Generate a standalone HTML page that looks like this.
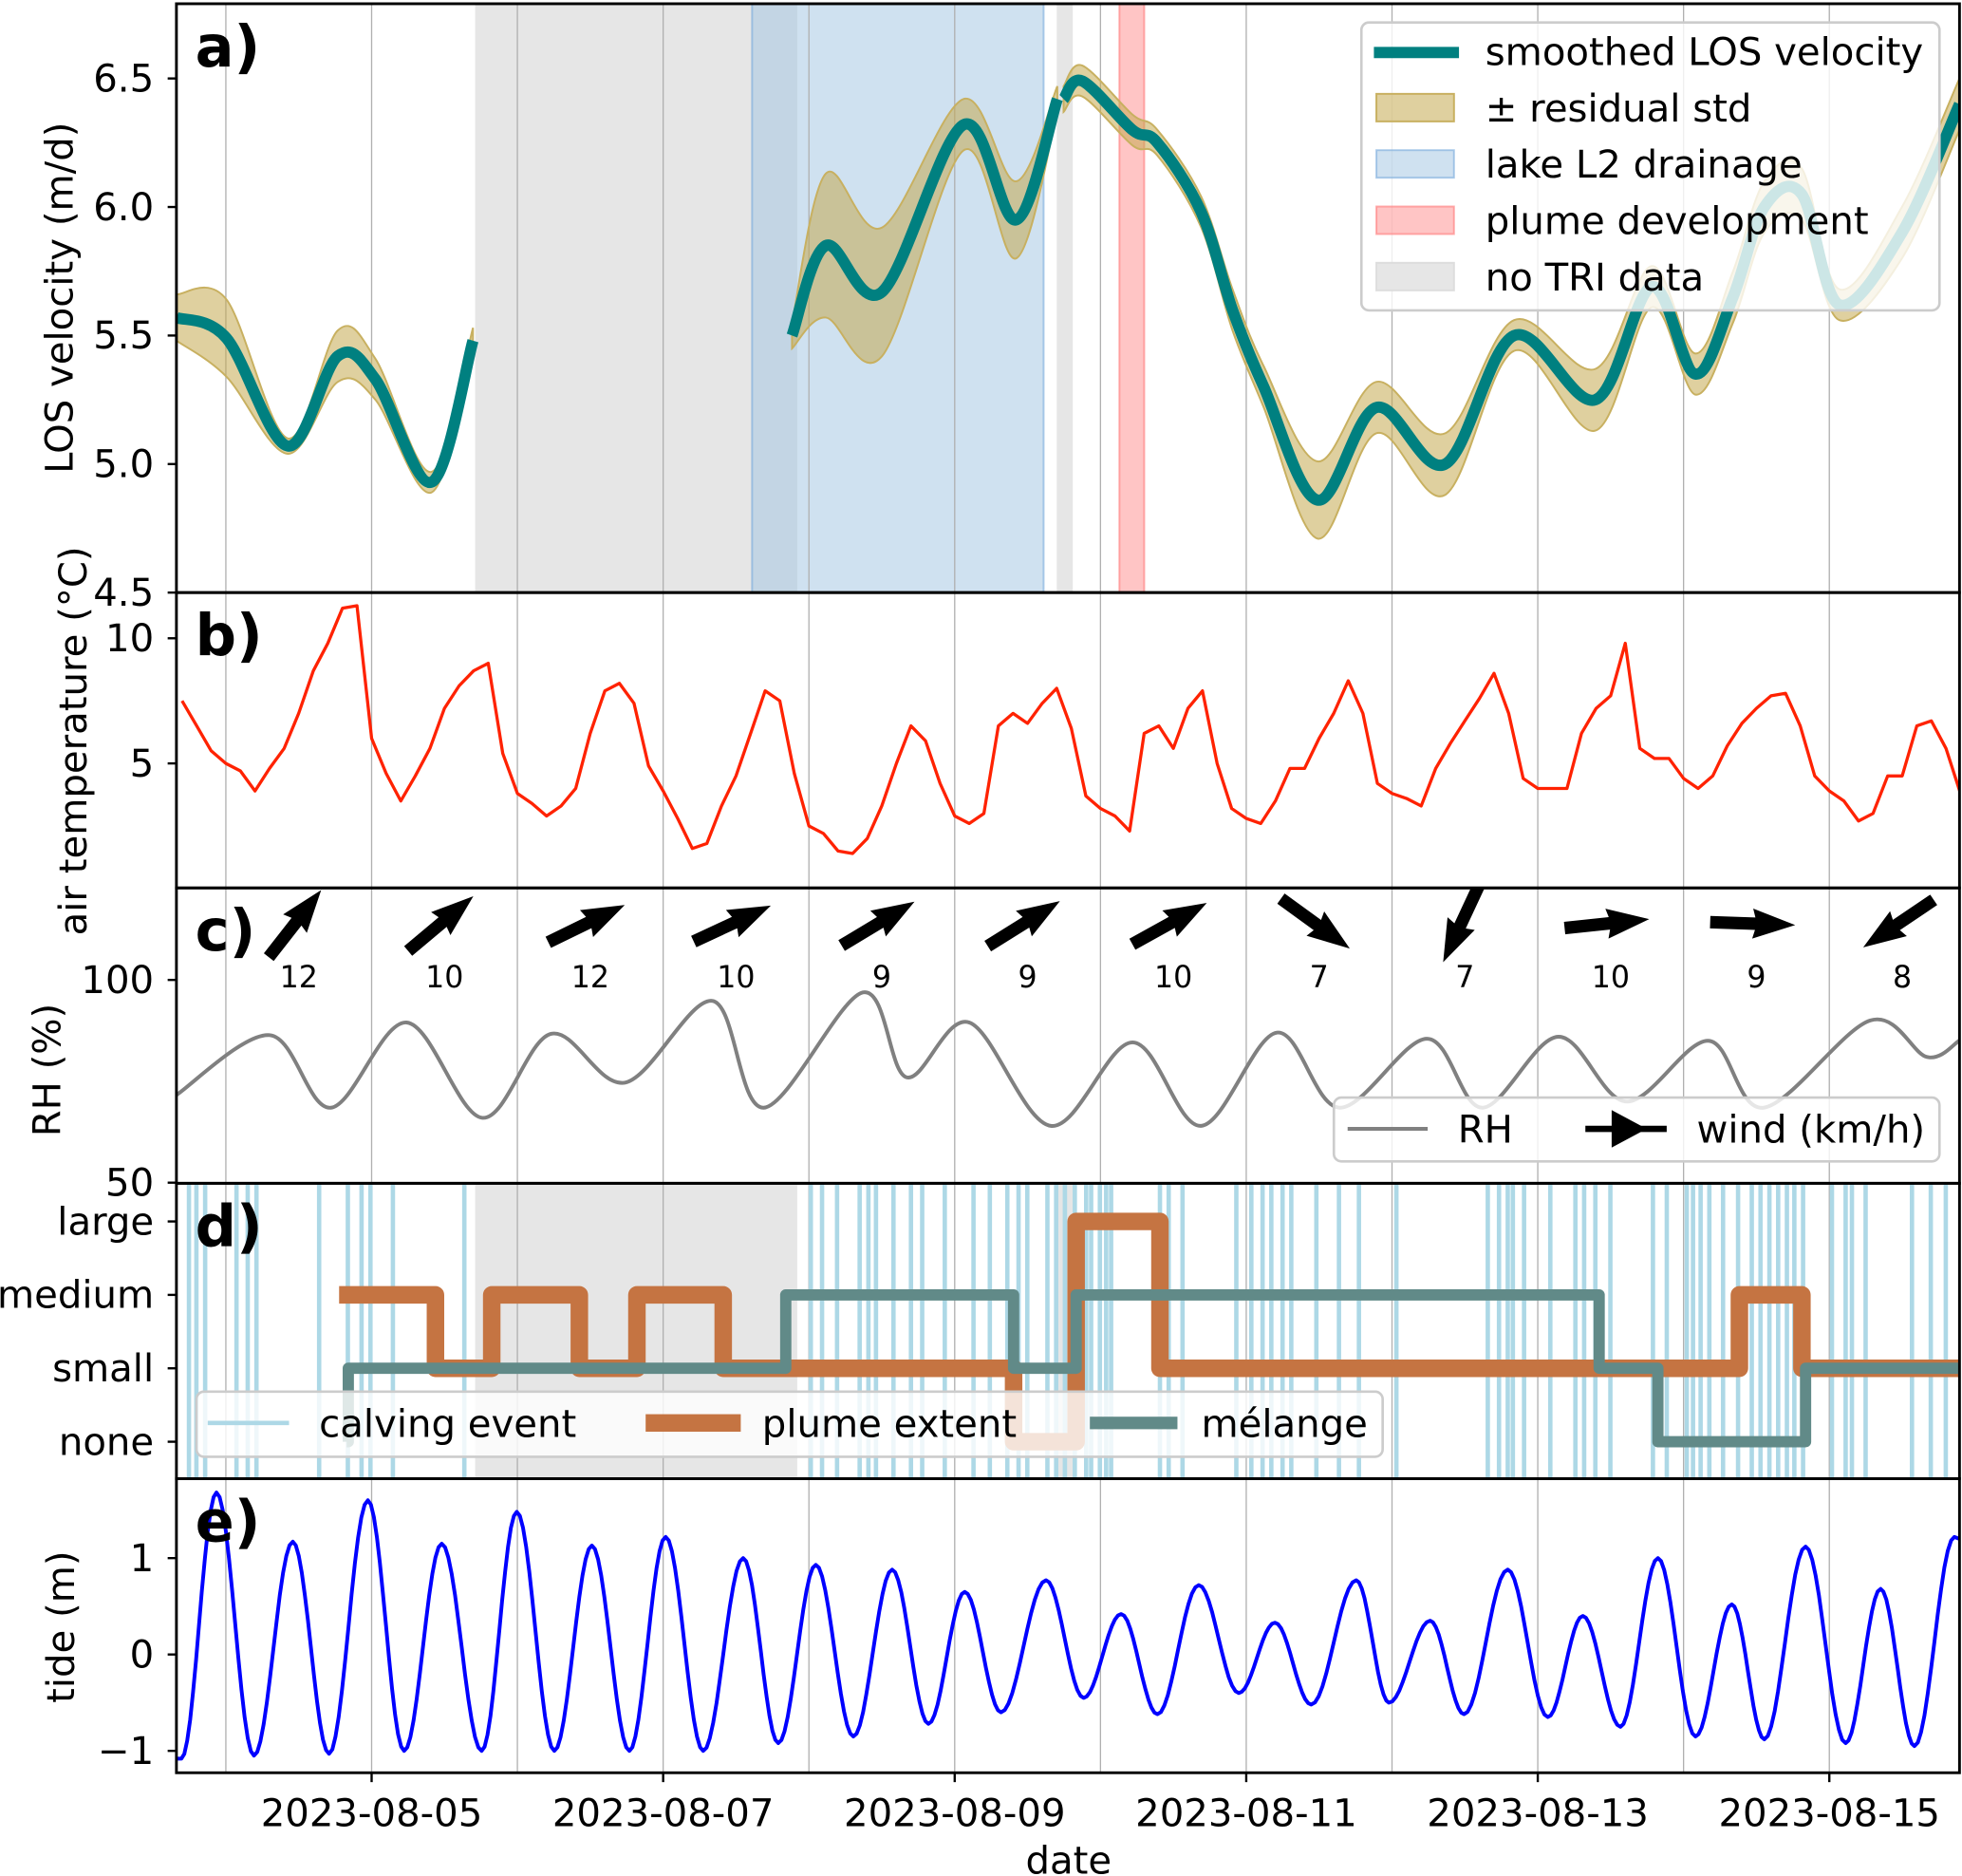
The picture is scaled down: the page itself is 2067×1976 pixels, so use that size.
<!DOCTYPE html>
<html><head><meta charset="utf-8">
<style>
html,body{margin:0;padding:0;background:#fff;}
svg{display:block;font-family:"DejaVu Sans","Liberation Sans",sans-serif;}
</style></head>
<body>
<svg id="fig" width="2067" height="1976" viewBox="0 0 1568 1499" preserveAspectRatio="none" xmlns="http://www.w3.org/2000/svg">
<defs>
<clipPath id="cpA"><rect x="141" y="3" width="1425" height="470.5"/></clipPath>
<clipPath id="cpB"><rect x="141" y="473.5" width="1425" height="236"/></clipPath>
<clipPath id="cpC"><rect x="141" y="709.5" width="1425" height="236"/></clipPath>
<clipPath id="cpD"><rect x="141" y="945.5" width="1425" height="236"/></clipPath>
<clipPath id="cpE"><rect x="141" y="1181.5" width="1425" height="235"/></clipPath>
</defs>
</svg>
<script>
// ---------- DATA ----------
const dateTicks = [5, 7, 9, 11, 13, 15];
const dateTickLabels = ["2023-08-05","2023-08-07","2023-08-09","2023-08-11","2023-08-13","2023-08-15"];
const gridDays = [4,5,6,7,8,9,10,11,12,13,14,15];

// panel a: smoothed LOS velocity (3 segments)
const velT1 = [3.661, 4.004, 4.425, 4.768, 5.026, 5.412, 5.695];
const velV1 = [5.57, 5.49, 5.07, 5.42, 5.33, 4.93, 5.48];
const velS1 = [0.09, 0.15, 0.03, 0.1, 0.08, 0.04, 0.05];
const velT2 = [7.884, 8.116, 8.502, 9.060, 9.421, 9.704];
const velV2 = [5.5, 5.85, 5.67, 6.32, 5.95, 6.42];
const velS2 = [0.05, 0.28, 0.25, 0.1, 0.15, 0.05];
const velT3 = [9.747, 9.876, 10.219, 10.391, 10.691, 10.906, 11.120, 11.49, 11.893, 12.365, 12.837, 13.395, 13.781, 14.082, 14.339, 14.554, 14.811, 15.069, 15.498, 15.893];
const velV3 = [6.42, 6.49, 6.3, 6.25, 5.98, 5.6, 5.3, 4.86, 5.22, 5.0, 5.5, 5.25, 5.69, 5.35, 5.65, 6.0, 6.05, 5.62, 5.9, 6.4];
const velS3 = [0.05, 0.06, 0.06, 0.05, 0.06, 0.08, 0.08, 0.15, 0.1, 0.12, 0.06, 0.12, 0.08, 0.08, 0.1, 0.1, 0.1, 0.06, 0.1, 0.1];
const noDataStart = [5.71, 9.70];
const noDataEnd = [7.92, 9.81];
const lakeStart = [7.61], lakeEnd = [9.61];
const plumeDevStart = [10.13], plumeDevEnd = [10.30];
const velTicks = [4.5, 5.0, 5.5, 6.0, 6.5];

// panel b: air temperature, every 0.1 day from 3.7
const tempT0 = 3.7, tempStep = 0.1;
const tempV = [7.5,6.5,5.5,5.0,4.7,3.9,4.8,5.6,7.0,8.7,9.8,11.2,11.3,6.0,4.6,3.5,4.5,5.6,7.2,8.1,8.7,9.0,5.4,3.8,3.4,2.9,3.3,4.0,6.2,7.9,8.2,7.4,4.9,3.9,2.8,1.6,1.8,3.3,4.5,6.2,7.9,7.5,4.6,2.5,2.2,1.5,1.4,2.0,3.3,5.0,6.5,5.9,4.2,2.9,2.6,3.0,6.5,7.0,6.6,7.4,8.0,6.4,3.7,3.2,2.9,2.3,6.2,6.5,5.6,7.2,7.9,5.0,3.2,2.8,2.6,3.5,4.8,4.8,6.0,7.0,8.3,7.0,4.2,3.8,3.6,3.3,4.8,5.8,6.7,7.6,8.6,7.0,4.4,4.0,4.0,4.0,6.2,7.2,7.7,9.8,5.6,5.2,5.2,4.4,4.0,4.5,5.7,6.6,7.2,7.7,7.8,6.5,4.5,3.9,3.5,2.7,3.0,4.5,4.5,6.5,6.7,5.6,3.8];
const tempTicks = [5, 10];

// panel c: RH and wind
const rhT = [3.66,4.30,4.72,5.24,5.76,6.23,6.74,7.34,7.69,8.37,8.67,9.10,9.66,10.22,10.69,11.21,11.64,12.24,12.62,13.14,13.61,14.17,14.55,15.28,15.67,15.89];
const rhV = [71.6,86.4,68.5,89.5,66,86.7,74.7,94.8,68.5,96.9,76,89.5,64,84.6,64,87,68.5,85.5,68.5,86,70,85,68.5,90,81,85];
const windT = [4.5,5.5,6.5,7.5,8.5,9.5,10.5,11.5,12.5,13.5,14.5,15.5];
const windSpeed = [12,10,12,10,9,9,10,7,7,10,9,8];
const windAngle = [52,40,26,25,31,32,29,-36,-115,6,-2,-146];
const rhTicks = [50, 100];

// panel d: calving, plume, melange
const calvingT = [3.747,3.798,3.858,4.073,4.150,4.210,4.640,4.837,4.931,4.992,5.146,5.636,8.013,8.090,8.193,8.348,8.408,8.460,8.580,8.700,8.777,8.932,9.129,9.241,9.361,9.438,9.498,9.636,9.696,9.756,9.824,9.902,9.936,9.996,10.039,10.073,10.408,10.468,10.563,10.932,11.035,11.112,11.172,11.249,11.309,11.481,11.636,11.773,12.030,12.657,12.734,12.794,12.829,12.906,13.086,13.258,13.318,13.395,13.498,13.790,13.885,14.022,14.065,14.117,14.177,14.271,14.374,14.468,14.528,14.589,14.649,14.709,14.760,14.820,15.018,15.112,15.155,15.249,15.567,15.696,15.799];
const plumeT = [4.777,5.438,5.824,6.425,6.820,7.412,9.404,9.833,10.408,14.383,14.812];
const plumeV = [2,1,2,1,2,1,0,3,1,2,1];
const melangeT = [4.829,4.84,7.841,9.404,9.833,13.421,13.824,14.837];
const melangeV = [0,1,2,1,2,1,0,1];
const levelLabels = ["none","small","medium","large"];

// panel e: tide extrema
const tideT = [3.661,3.695,3.936,4.193,4.459,4.708,4.974,5.223,5.481,5.755,5.996,6.253,6.511,6.768,7.017,7.275,7.549,7.790,8.047,8.305,8.571,8.820,9.069,9.318,9.627,9.884,10.142,10.391,10.674,10.949,11.197,11.446,11.755,11.979,12.262,12.494,12.794,13.069,13.309,13.567,13.824,14.082,14.331,14.554,14.837,15.112,15.352,15.584,15.858];
const tideV = [-1.08,-1.08,1.68,-1.05,1.17,-1.03,1.6,-1.0,1.15,-1.0,1.48,-1.0,1.13,-1.0,1.22,-1.0,1.0,-0.92,0.93,-0.85,0.88,-0.72,0.65,-0.6,0.77,-0.45,0.42,-0.62,0.72,-0.4,0.33,-0.52,0.77,-0.5,0.35,-0.62,0.88,-0.65,0.4,-0.75,1.0,-0.85,0.52,-0.88,1.12,-0.92,0.68,-0.95,1.22];
const tideTicks = [-1, 0, 1];

// ---------- SCALES ----------
const X0 = 141, X1 = 1566, D0 = 3.661, D1 = 15.893;
const xs = d => X0 + (d - D0) * (X1 - X0) / (D1 - D0);
const ya = v => 473.5 - (v - 4.5) * 205.4;
const yb = v => 610 - (v - 5) * 20;
const yc = v => 945 - (v - 50) * 3.24;
const yd = l => 1152 - l * 58.67;
const ye = v => 1322 - v * 77;
const panels = [{top:3,bot:473.5,cp:'cpA'},{top:473.5,bot:709.5,cp:'cpB'},{top:709.5,bot:945.5,cp:'cpC'},{top:945.5,bot:1181.5,cp:'cpD'},{top:1181.5,bot:1416.5,cp:'cpE'}];
const FS = 30.5;

const NS = "http://www.w3.org/2000/svg";
const svg = document.getElementById('fig');
function el(tag, attrs, parent) {
  const e = document.createElementNS(NS, tag);
  for (const k in attrs) e.setAttribute(k, attrs[k]);
  (parent || svg).appendChild(e);
  return e;
}
function txt(s, attrs, parent) { const e = el('text', attrs, parent); e.textContent = s; return e; }
function cr(pts) {
  let s = '';
  for (let i = 0; i < pts.length - 1; i++) {
    const p0 = pts[i-1] || pts[i], p1 = pts[i], p2 = pts[i+1], p3 = pts[i+2] || p2;
    s += ` C${(p1[0]+(p2[0]-p0[0])/6).toFixed(1)},${(p1[1]+(p2[1]-p0[1])/6).toFixed(1)} ${(p2[0]-(p3[0]-p1[0])/6).toFixed(1)},${(p2[1]-(p3[1]-p1[1])/6).toFixed(1)} ${p2[0].toFixed(1)},${p2[1].toFixed(1)}`;
  }
  return s;
}
const layers = panels.map((p, i) => {
  const g = el('g', {'clip-path': `url(#${p.cp})`});
  
  
  return g;
});

function spans(g, top, bot) {
  noDataStart.forEach((s, i) => {
    const r = el('rect', {x: xs(s), y: top, width: xs(noDataEnd[i]) - xs(s), height: bot - top, fill: '#e6e6e6'}, g);
    
    
  });
}
spans(layers[0], 3, 473.5);
lakeStart.forEach((s, i) => {
  const r = el('rect', {x: xs(s), y: 3, width: xs(lakeEnd[i]) - xs(s), height: 470.5, fill: 'rgba(160,196,226,0.5)', stroke: 'rgba(120,170,220,0.6)', 'stroke-width': 1.5}, layers[0]);
  
  
});
plumeDevStart.forEach((s, i) => {
  const r = el('rect', {x: xs(s), y: 3, width: xs(plumeDevEnd[i]) - xs(s), height: 470.5, fill: 'rgba(255,140,140,0.5)', stroke: 'rgba(255,120,120,0.6)', 'stroke-width': 1.5}, layers[0]);
  
  
});
spans(layers[3], 945.5, 1181.5);

layers.forEach((g, pi) => {
  gridDays.forEach(d => {
    const l = el('line', {x1: xs(d), x2: xs(d), y1: panels[pi].top, y2: panels[pi].bot, stroke: '#b0b0b0', 'stroke-width': 1}, g);
    
    
  });
});

[[velT1, velV1, velS1], [velT2, velV2, velS2], [velT3, velV3, velS3]].forEach(([T, V, S]) => {
  const up = T.map((t, i) => [xs(t), ya(V[i] + S[i])]);
  const lo = T.map((t, i) => [xs(t), ya(V[i] - S[i])]).reverse();
  const band = el('path', {d: `M${up[0][0]},${up[0][1]}` + cr(up) + ` L${lo[0][0]},${lo[0][1]}` + cr(lo) + 'Z', fill: 'rgba(196,170,80,0.55)', stroke: '#c8b060', 'stroke-width': 1.5}, layers[0]);
  
  
});
[[velT1, velV1], [velT2, velV2], [velT3, velV3]].forEach(([T, V]) => {
  const pts = T.map((t, i) => [xs(t), ya(V[i])]);
  const p = el('path', {d: `M${pts[0][0]},${pts[0][1]}` + cr(pts), fill: 'none', stroke: '#008080', 'stroke-width': 9}, layers[0]);
  
  
});

{
  const pts = tempV.map((v, i) => `${xs(tempT0 + i * tempStep).toFixed(1)},${yb(v).toFixed(1)}`);
  const p = el('polyline', {points: pts.join(' '), fill: 'none', stroke: '#ff2200', 'stroke-width': 2.5, 'stroke-linejoin': 'round'}, layers[1]);
  
  
}

{
  const pts = rhT.map((t, i) => [xs(t), yc(rhV[i])]);
  const p = el('path', {d: `M${pts[0][0]},${pts[0][1]}` + cr(pts), fill: 'none', stroke: '#808080', 'stroke-width': 3}, layers[2]);
  
  
  windT.forEach((t, i) => {
    const cx = xs(t) - 3, cy = 738, L = 68;
    const g = el('g', {transform: `translate(${cx},${cy}) rotate(${-windAngle[i]})`}, layers[2]);
    
    
    el('polygon', {points: `${-L/2},-5 ${L/2-32},-5 ${L/2-34},-12 ${L/2},0 ${L/2-34},12 ${L/2-32},5 ${-L/2},5`, fill: '#000'}, g);
    const lab = txt(String(windSpeed[i]), {x: xs(t), y: 789, 'font-size': 24, 'text-anchor': 'middle', fill: '#000'}, svg);
    
    
  });
}

calvingT.forEach(t => {
  const l = el('line', {x1: xs(t), x2: xs(t), y1: 945.5, y2: 1181.5, stroke: '#add8e6', 'stroke-width': 3.5}, layers[3]);
  
  
});
function stepPath(T, V) {
  let s = `M${xs(T[0])},${yd(V[0])}`;
  for (let i = 1; i < T.length; i++) s += ` H${xs(T[i])} V${yd(V[i])}`;
  return s + ` H${xs(D1) + 10}`;
}
{
  const p = el('path', {d: stepPath(plumeT, plumeV), fill: 'none', stroke: '#c57442', 'stroke-width': 14, 'stroke-linejoin': 'round'}, layers[3]);
  
  
  const m = el('path', {d: stepPath(melangeT, melangeV), fill: 'none', stroke: '#618a88', 'stroke-width': 9, 'stroke-linejoin': 'round'}, layers[3]);
  
  
}

{
  let d = '';
  for (let i = 0; i < tideT.length - 1; i++) {
    for (let k = 0; k <= 12; k++) {
      const f = k / 12, t = tideT[i] + (tideT[i+1] - tideT[i]) * f;
      const v = tideV[i] + (tideV[i+1] - tideV[i]) * (1 - Math.cos(Math.PI * f)) / 2;
      d += (d ? ' L' : 'M') + xs(t).toFixed(1) + ',' + ye(v).toFixed(1);
    }
  }
  d += ` L${xs(D1)},${ye(1.2)}`;
  const p = el('path', {d, fill: 'none', stroke: '#0000ff', 'stroke-width': 3, 'stroke-linejoin': 'round'}, layers[4]);
  
  
}

// ---------- AXES ----------
panels.forEach((p, i) => {
  const r = el('rect', {x: 141, y: p.top, width: 1425, height: p.bot - p.top, fill: 'none', stroke: '#000', 'stroke-width': 2.2});
  
  
  const lt = txt('abcde'[i] + ')', {x: 156, y: p.top + 50, 'font-size': 46, 'font-weight': 'bold', fill: '#000'});
  
  
});
function yTicks(vals, scale, labels, name) {
  vals.forEach((v, i) => {
    const y = scale(v);
    el('line', {x1: 134, x2: 141, y1: y, y2: y, stroke: '#000', 'stroke-width': 1.8});
    const t = txt(labels ? labels[i] : String(v).replace('-', '\u2212'), {x: 123, y: y + 10.5, 'font-size': FS, 'text-anchor': 'end', fill: '#000'});
    
    
  });
}
yTicks(velTicks, ya, velTicks.map(v => v.toFixed(1)), 'velocity-tick-label');
yTicks(tempTicks, yb, null, 'temperature-tick-label');
yTicks(rhTicks, yc, null, 'rh-tick-label');
yTicks([0,1,2,3], yd, levelLabels, 'level-tick-label');
yTicks(tideTicks, ye, null, 'tide-tick-label');
dateTicks.forEach((d, i) => {
  el('line', {x1: xs(d), x2: xs(d), y1: 1416.5, y2: 1424, stroke: '#000', 'stroke-width': 1.8});
  const t = txt(dateTickLabels[i], {x: xs(d), y: 1459, 'font-size': FS, 'text-anchor': 'middle', fill: '#000'});
  
  
});
function yLabel(s, x, y, name) {
  const t = txt(s, {x, y, 'font-size': FS, 'text-anchor': 'middle', fill: '#000', transform: `rotate(-90 ${x} ${y})`});
  
  
}
yLabel('LOS velocity (m/d)', 58, 238, 'velocity-axis-title');
yLabel('air temperature (°C)', 69, 592, 'temperature-axis-title');
yLabel('RH (%)', 48, 855, 'rh-axis-title');
yLabel('tide (m)', 59, 1300, 'tide-axis-title');
{
  const t = txt('date', {x: 854, y: 1497, 'font-size': FS, 'text-anchor': 'middle', fill: '#000'});
  
  
}

// ---------- LEGENDS ----------
function legendBox(x, y, w, h, name) {
  const g = el('g', {});
  
  
  el('rect', {x, y, width: w, height: h, rx: 6, fill: 'rgba(255,255,255,0.8)', stroke: '#cccccc', 'stroke-width': 2}, g);
  return g;
}
{
  const g = legendBox(1088, 18, 462, 230, 'velocity-legend');
  el('line', {x1: 1098, x2: 1166, y1: 42, y2: 42, stroke: '#008080', 'stroke-width': 9}, g);
  el('rect', {x: 1100, y: 75, width: 62, height: 22, fill: 'rgba(196,170,80,0.55)', stroke: '#c8b060', 'stroke-width': 1.5}, g);
  el('rect', {x: 1100, y: 120, width: 62, height: 22, fill: 'rgba(160,196,226,0.5)', stroke: 'rgba(120,170,220,0.6)', 'stroke-width': 1.5}, g);
  el('rect', {x: 1100, y: 165, width: 62, height: 22, fill: 'rgba(255,140,140,0.5)', stroke: 'rgba(255,120,120,0.6)', 'stroke-width': 1.5}, g);
  el('rect', {x: 1100, y: 210, width: 62, height: 22, fill: '#e6e6e6', stroke: '#dddddd', 'stroke-width': 1.5}, g);
  ['smoothed LOS velocity', '± residual std', 'lake L2 drainage', 'plume development', 'no TRI data'].forEach((s, i) => {
    const t = txt(s, {x: 1187, y: 52 + i * 45, 'font-size': FS, fill: '#000'}, g);
    
    
  });
}
{
  const g = legendBox(1066, 877, 484, 51, 'rh-wind-legend');
  el('line', {x1: 1077, x2: 1141, y1: 902, y2: 902, stroke: '#808080', 'stroke-width': 3}, g);
  el('line', {x1: 1267, x2: 1332, y1: 902, y2: 902, stroke: '#000', 'stroke-width': 5}, g);
  el('polygon', {points: '1288,887 1316,902 1288,917', fill: '#000'}, g);
  const a = txt('RH', {x: 1165, y: 913, 'font-size': FS, fill: '#000'}, g);
  
  
  const b = txt('wind (km/h)', {x: 1356, y: 913, 'font-size': FS, fill: '#000'}, g);
  
  
}
{
  const g = legendBox(157, 1112, 948, 52, 'calving-plume-legend');
  el('line', {x1: 166, x2: 231, y1: 1137, y2: 1137, stroke: '#add8e6', 'stroke-width': 3.5}, g);
  el('rect', {x: 516, y: 1130, width: 76, height: 14, fill: '#c57442'}, g);
  el('rect', {x: 871, y: 1132, width: 70, height: 10, fill: '#618a88'}, g);
  [['calving event', 255], ['plume extent', 609], ['mélange', 960]].forEach(([s, x]) => {
    const t = txt(s, {x, y: 1148, 'font-size': FS, fill: '#000'}, g);
    
    
  });
}
</script>
</body></html>
